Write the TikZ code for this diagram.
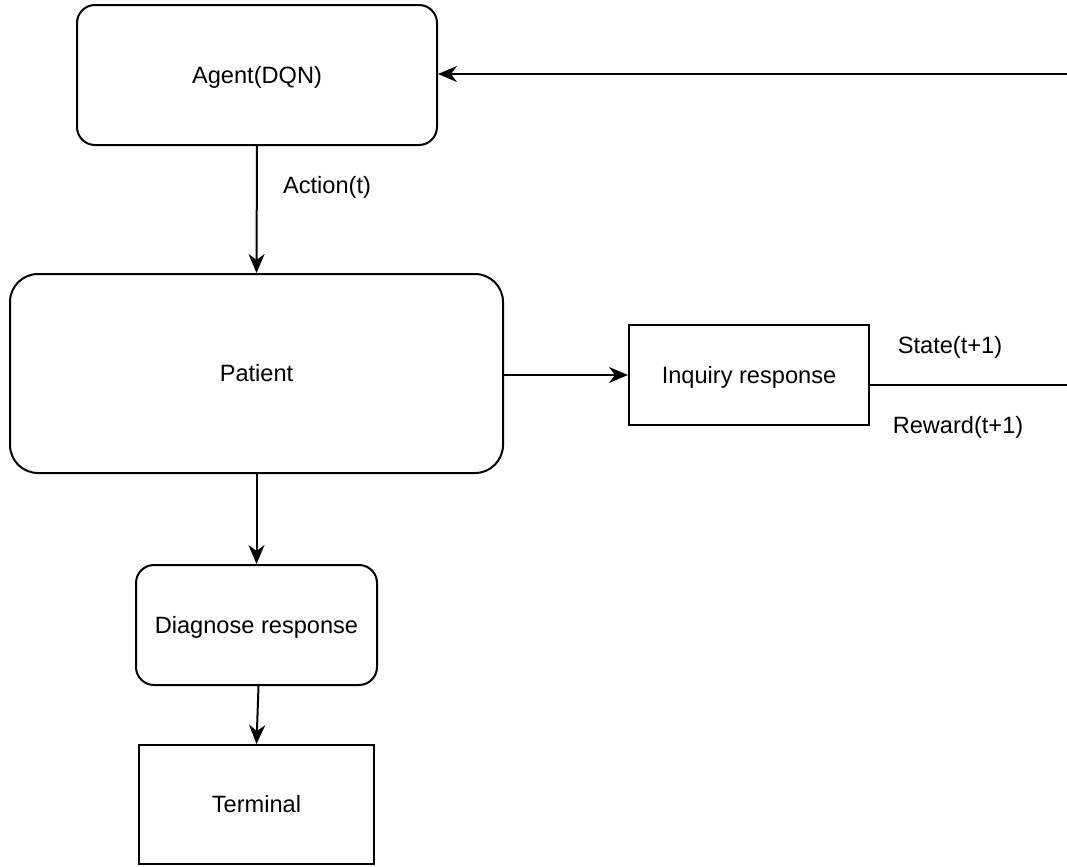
\documentclass[tikz,border=0pt]{standalone}
\usepackage{fontspec}
\setmainfont{Liberation Sans}
\usetikzlibrary{arrows.meta}
\begin{document}
\begin{tikzpicture}[x=0.5pt,y=-0.5pt,
  every node/.style={font=\fontsize{11.8}{14}\selectfont,text height=8.45pt,text depth=0pt},
  box/.style={draw,line width=1pt,inner sep=0pt,align=center},
  rbox/.style={box,rounded corners=#1},
  conn/.style={line width=1pt,-{Stealth[length=9.5pt,width=8pt,inset=3pt]}},
  lbl/.style={inner sep=0pt}]
\useasboundingbox (0,0) rectangle (1067,867);
\node[rbox=9pt,minimum width=180pt,minimum height=70pt] (agent) at (257,75) {Agent(DQN)};
\node[rbox=14pt,minimum width=246.5pt,minimum height=99.5pt,text depth=-2.5pt] (patient) at (256.5,373.5) {Patient};
\node[box,minimum width=120pt,minimum height=50pt] (inq) at (749,375) {Inquiry response};
\node[rbox=9pt,minimum width=120.5pt,minimum height=60pt] (diag) at (256.5,625) {Diagnose response};
\node[box,minimum width=117.5pt,minimum height=59.5pt] (term) at (256.5,804.5) {Terminal};
\node[lbl] (act) at (327,185.5) {Action(t)};
\node[lbl] (state) at (950,345.5) {State(t+1)};
\node[lbl] (reward) at (958,425.5) {Reward(t+1)};
\coordinate (c1) at (1076,385);
\coordinate (c2) at (1076,74);
\draw[conn] (agent.south) -- (patient.north);
\draw[conn] (patient.east |- inq.west) -- (inq.west);
\draw[conn] (patient.south) -- (diag.north);
\draw[conn] ([xshift=1pt]diag.south) -- (term.north);
\draw[conn] (inq.east |- c1) -- (c1) -- (c2) -- (agent.east |- c2);
\end{tikzpicture}
\end{document}
